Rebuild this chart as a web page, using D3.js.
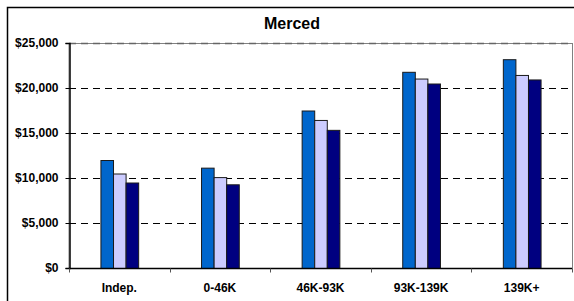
<!DOCTYPE html>
<html><head><meta charset="utf-8">
<script src="https://cdn.jsdelivr.net/npm/d3@7"></script>
<style>body{margin:0;background:#fff}svg{display:block}text{font-family:Arial,"Liberation Sans",sans-serif;font-weight:bold;fill:#000}</style>
</head><body>
<svg id="c" width="574" height="301"></svg>
<script>
const title = "Merced";
const categories = ["Indep.", "0-46K", "46K-93K", "93K-139K", "139K+"];
const seriesNames = ["Series 1", "Series 2", "Series 3"];
const series1 = [12000, 11150, 17500, 21800, 23200];
const series2 = [10500, 10100, 16450, 21050, 21450];
const series3 = [9500, 9300, 15350, 20500, 20950];
const yTicks = [0, 5000, 10000, 15000, 20000, 25000];
const colors = ["#0066CC", "#CCCCFF", "#000080"];

const allSeries = [series1, series2, series3];
const svg = d3.select("#c");
const L = 69, R = 572, T = 43, B = 268;

// outer frame
svg.append("rect").attr("x", 7.5).attr("y", 7.5).attr("width", 600).attr("height", 400)
  .attr("fill", "none").attr("stroke", "#000").attr("stroke-width", 1.5);

const x = d3.scaleBand().domain(categories).range([L, R]).paddingInner(0).paddingOuter(0);
const y = d3.scaleLinear().domain([0, 25000]).range([B, T]);
const bw = x.bandwidth() * 0.125;
const xs = d3.scaleBand().domain(d3.range(3)).range([0, bw * 3]);

// plot area border (gray)
svg.append("rect").attr("x", L).attr("y", T + 0.5).attr("width", R - L + 0.5).attr("height", B - T)
  .attr("fill", "none").attr("stroke", "#808080").attr("stroke-width", 1);

// gridlines
svg.append("g").selectAll("line").data(yTicks.filter(d => d > 0)).join("line")
  .attr("x1", L).attr("x2", R).attr("y1", d => Math.round(y(d)) + 0.5).attr("y2", d => Math.round(y(d)) + 0.5)
  .attr("stroke", d => d === 25000 ? "#666" : "#000").attr("stroke-width", d => d === 25000 ? 1.5 : 1)
  .attr("stroke-dasharray", "7,5");

// bars
const g = svg.append("g");
categories.forEach((c, i) => {
  allSeries.forEach((s, j) => {
    const x0 = x(c) + (x.bandwidth() - bw * 3) / 2 + xs(j);
    g.append("rect")
      .attr("x", x0 + 0.5).attr("y", y(s[i]) + 0.5)
      .attr("width", xs.bandwidth()).attr("height", B - y(s[i]))
      .attr("fill", colors[j]).attr("stroke", "#1a1a1a").attr("stroke-width", 1);
  });
});

// y axis
const ya = svg.append("g").attr("transform", `translate(${L + 0.5},0)`)
  .call(d3.axisLeft(y).tickValues(yTicks).tickSize(4).tickPadding(7).tickFormat(d => "$" + d3.format(",")(d)));
ya.select(".domain").attr("stroke", "#000").attr("stroke-width", 1.5);
ya.selectAll(".tick line").attr("stroke", "#000");
ya.selectAll("text").attr("font-size", 12).attr("font-family", "Arial, 'Liberation Sans', sans-serif").attr("font-weight", "bold");

// x axis
const xa = svg.append("g").attr("transform", `translate(0,${B + 0.5})`);
xa.append("line").attr("x1", L).attr("x2", R).attr("stroke", "#000").attr("stroke-width", 1.5);
xa.selectAll("line.tk").data(d3.range(categories.length + 1)).join("line").attr("class", "tk")
  .attr("x1", i => Math.round(L + i * x.bandwidth()) + 0.5).attr("x2", i => Math.round(L + i * x.bandwidth()) + 0.5)
  .attr("y1", 0).attr("y2", 4).attr("stroke", "#555");
xa.selectAll("text").data(categories).join("text")
  .attr("x", d => x(d) + x.bandwidth() / 2).attr("y", 23).attr("text-anchor", "middle")
  .attr("font-size", 12).text(d => d);

// title
svg.append("text").attr("x", 292).attr("y", 29).attr("text-anchor", "middle")
  .attr("font-size", 16).text(title);
</script>
</body></html>
